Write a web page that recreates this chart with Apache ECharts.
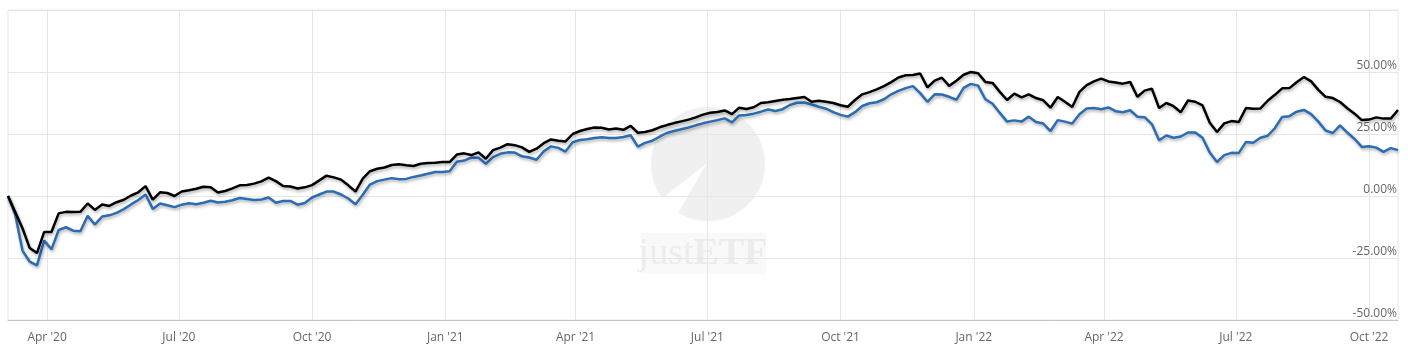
<!DOCTYPE html>
<html><head><meta charset="utf-8">
<script src="https://cdn.jsdelivr.net/npm/echarts@6/dist/echarts.min.js"></script>
<style>html,body{margin:0;padding:0;background:#fff}#c{width:1408px;height:358px}</style>
</head><body><div id="c"></div>
<script>
// ---- data (performance in %, one point every 5 calendar days) ----
const startDate = [2020, 3, 5];
const stepDays = 5;
const quarterTicks = ['2020-04-01','2020-07-01','2020-10-01','2021-01-01','2021-04-01','2021-07-01','2021-10-01','2022-01-01','2022-04-01','2022-07-01','2022-10-01'];
const monthNames = ['Jan','Feb','Mar','Apr','May','Jun','Jul','Aug','Sep','Oct','Nov','Dec'];
const yMin = -50, yMax = 75, yStep = 25;

const blackValues = [
 0, -6.5, -13, -21, -23, -14.5, -14.5, -7, -6.4, -6.5,
 -6.4, -3, -5.6, -3.4, -4, -2.5, -1.5, 0.2, 1.5, 4,
 -1.5, 1.5, 1.2, 0, 1.8, 2.3, 2.9, 3.7, 3.5, 1.4,
 2, 3.1, 4.3, 4.4, 5, 5.9, 7.4, 6, 4, 3.8,
 3, 3.5, 4.4, 6.3, 8.2, 7.5, 6.6, 4.3, 1.8, 7,
 10, 11, 11.5, 12.5, 12.8, 12.4, 12.1, 13, 13.3, 13.4,
 13.7, 13.7, 16.7, 17.2, 16.5, 17.6, 15, 18.5, 19.5, 20.9,
 20.5, 19.6, 17.8, 19.1, 21.3, 22.8, 22.3, 22, 25, 26.2,
 27, 27.6, 27.5, 26.8, 27.2, 26.7, 28.3, 25.5, 25.8, 26.5,
 27.7, 28.6, 29.4, 30.1, 30.8, 31.7, 32.8, 33.6, 33.9, 34.5,
 33, 35.6, 35.1, 35.8, 37.5, 37.8, 38.3, 38.8, 39.1, 39.5,
 39.9, 38, 38.4, 38, 37.5, 36.6, 36, 38.7, 41, 41.9,
 43, 44.3, 45.9, 47.8, 48.7, 48.8, 49.4, 43.8, 46.5, 47.7,
 44.4, 46.5, 48.9, 50, 49.5, 46, 45.6, 42, 38.7, 41.3,
 39.8, 41, 39.5, 38.6, 35.6, 39.9, 38, 35.9, 42, 44.7,
 46.2, 47.3, 46.2, 45.8, 45.3, 46, 40, 42.5, 43.3, 35.5,
 37.5, 36.2, 33.8, 38.5, 38, 36.5, 29.5, 25.8, 29.3, 30.2,
 29.8, 35.5, 35.2, 35.3, 38.4, 40.8, 43.4, 43.5, 45.9, 48,
 46.2, 42.8, 40, 39.5, 37.9, 35.4, 33.2, 30.6, 30.8, 31.7,
 31.2, 31.2, 34.7
];
const blueValues = [
 0, -7.5, -22, -26.5, -28, -18, -21.5, -13.7, -12.6, -14,
 -14.2, -8, -11.5, -8.3, -7.8, -6.8, -5.3, -3.4, -1.6, 0.6,
 -5.2, -3, -3.7, -4.5, -3.5, -2.9, -3.3, -2.7, -1.9, -2.6,
 -2.3, -1.7, -0.8, -1.2, -1.6, -1.4, -0.6, -2.7, -2, -2,
 -3.5, -2.8, -0.6, 0.6, 1.8, 1.8, 0.6, -1, -3.3, 0.5,
 4.6, 6, 6.6, 7.2, 6.8, 6.9, 7.7, 8.3, 9, 9.7,
 9.7, 10, 13.8, 14.3, 15.5, 15.4, 13, 15.7, 17, 17.6,
 17.5, 16, 15.5, 14.6, 18, 20, 19.4, 17.9, 21.7, 22.6,
 22.9, 23.4, 23.7, 23.4, 23.4, 23.8, 24.5, 19.9, 21.4, 22.3,
 23.9, 25.4, 26.2, 26.9, 27.6, 28.5, 29.3, 30, 30.6, 31.3,
 29.7, 32.5, 32.7, 33.2, 34, 34.9, 34.3, 35, 36.7, 37.6,
 37.7, 36.9, 36, 35.2, 33.8, 32.7, 32, 33.8, 36.3, 37.4,
 37.8, 39, 41, 42.4, 43.5, 44.3, 41.5, 38, 41, 40.9,
 40, 38.8, 43.6, 45.2, 44.5, 39, 37.2, 33.5, 30, 30.5,
 30, 32, 29.8, 29.2, 26.2, 30.6, 30, 29.2, 33, 35.3,
 35.5, 35, 35.7, 34.2, 33.8, 34.6, 32, 31.8, 29, 22.5,
 24.4, 23.5, 24, 25.6, 25.6, 23.5, 17.5, 13.7, 16.5, 17.4,
 17.3, 21.8, 21.5, 23.5, 24.3, 27.4, 31.9, 32.2, 34, 34.7,
 33, 30, 26.4, 25.4, 28.5, 25.6, 23, 19.8, 20.1, 19.5,
 17.8, 19.3, 18.5
];

// ---- build ----
function dayTs(i) { return new Date(startDate[0], startDate[1] - 1, startDate[2] + i * stepDays).getTime(); }
function parseTs(s) { const p = s.split('-').map(Number); return new Date(p[0], p[1] - 1, p[2]).getTime(); }
const dates = blackValues.map((_, i) => dayTs(i));
const tickTs = quarterTicks.map(parseTs);
const blackData = dates.map((d, i) => [d, blackValues[i]]);
const blueData = dates.map((d, i) => [d, blueValues[i]]);

const chart = echarts.init(document.getElementById('c'), null, { renderer: 'canvas' });
const FONT = "'Open Sans', 'Noto Sans', sans-serif";
chart.setOption({
  animation: false,
  backgroundColor: '#fff',
  grid: { left: 8, right: 10, top: 10, bottom: 38, show: true, borderColor: '#e6e6e6', borderWidth: 1, containLabel: false },
  xAxis: {
    type: 'value',
    min: dates[0], max: dates[dates.length - 1],
    axisLine: { show: true, onZero: false, lineStyle: { color: '#c4c4c4', width: 1 } },
    axisTick: { show: false, customValues: tickTs },
    splitLine: { show: true, lineStyle: { color: '#e6e6e6', width: 1 } },
    axisLabel: {
      customValues: tickTs,
      margin: 12,
      color: '#666', fontSize: 12, fontFamily: FONT,
      formatter: function (v) { const d = new Date(v); return monthNames[d.getMonth()] + " '" + String(d.getFullYear()).slice(2); }
    }
  },
  yAxis: {
    type: 'value', position: 'right',
    min: yMin, max: yMax, interval: yStep,
    axisLine: { show: false }, axisTick: { show: false },
    splitLine: { show: true, lineStyle: { color: '#e6e6e6', width: 1 } },
    axisLabel: {
      inside: true, margin: 1, showMaxLabel: false,
      verticalAlign: 'bottom',
      color: '#666', fontSize: 12, fontFamily: FONT,
      formatter: function (v) { return v.toFixed(2) + '%'; }
    }
  },
  graphic: [
    { type: 'circle', z: -10, silent: true, shape: { cx: 708, cy: 164, r: 57 }, style: { fill: '#f0f0f0' } },
    { type: 'polygon', z: -9, silent: true, shape: { points: [[707, 163], [646, 211], [668, 231]] }, style: { fill: '#fff' } },
    { type: 'rect', z: -10, silent: true, shape: { x: 641, y: 233, width: 125, height: 41 }, style: { fill: '#f9f9f9' } },
    { type: 'text', z: -9, silent: true, x: 703, y: 254, style: {
        text: '{a|just}{b|ETF}', align: 'center', verticalAlign: 'middle',
        rich: {
          a: { fontFamily: "'Liberation Serif', 'DejaVu Serif', serif", fontSize: 38, fill: '#ececec', fontWeight: 'normal' },
          b: { fontFamily: "'Liberation Serif', 'DejaVu Serif', serif", fontSize: 38, fill: '#ececec', fontWeight: 'bold' }
        }
      } }
  ],
  series: [
    { type: 'line', name: 'blue', data: blueData, showSymbol: false, symbol: 'none',
      lineStyle: { color: '#2b6cb3', width: 2.5, shadowColor: 'rgba(0,0,0,0.3)', shadowBlur: 3, shadowOffsetX: 1, shadowOffsetY: 2 } },
    { type: 'line', name: 'black', data: blackData, showSymbol: false, symbol: 'none',
      lineStyle: { color: '#000', width: 2.5, shadowColor: 'rgba(0,0,0,0.3)', shadowBlur: 3, shadowOffsetX: 1, shadowOffsetY: 2 } }
  ]
});
</script></body></html>
